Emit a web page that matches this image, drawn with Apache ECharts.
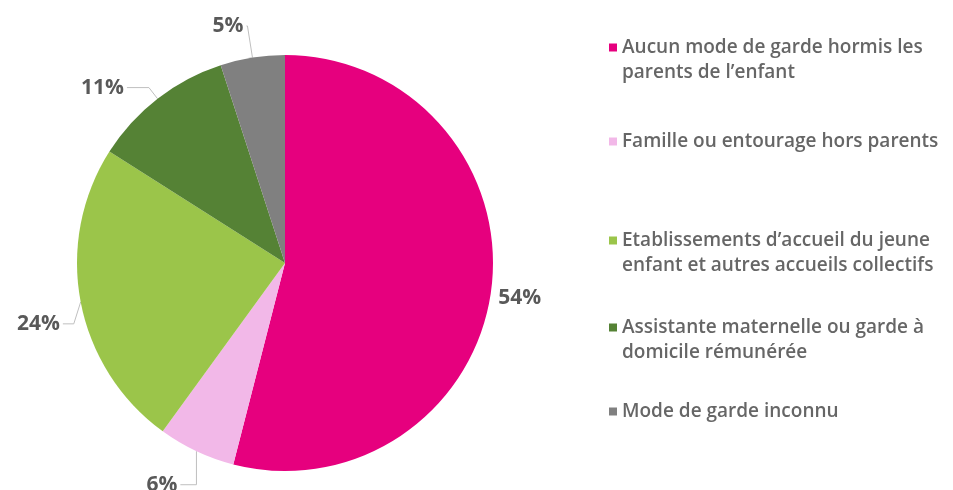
<!DOCTYPE html>
<html>
<head>
<meta charset="utf-8">
<script src="https://cdn.jsdelivr.net/npm/echarts@6/dist/echarts.min.js"></script>
<style>
html,body{margin:0;padding:0;background:#fff;}
#chart{width:953px;height:490px;}
</style>
</head>
<body>
<div id="chart"></div>
<script>
var categories = [
  "Aucun mode de garde hormis les parents de l\u2019enfant",
  "Famille ou entourage hors parents",
  "Etablissements d\u2019accueil du jeune enfant et autres accueils collectifs",
  "Assistante maternelle ou garde \u00e0 domicile r\u00e9mun\u00e9r\u00e9e",
  "Mode de garde inconnu"
];
var legendLines = [
  ["Aucun mode de garde hormis les", "parents de l\u2019enfant"],
  ["Famille ou entourage hors parents"],
  ["Etablissements d\u2019accueil du jeune", "enfant et autres accueils collectifs"],
  ["Assistante maternelle ou garde \u00e0", "domicile r\u00e9mun\u00e9r\u00e9e"],
  ["Mode de garde inconnu"]
];
var values = [54, 6, 24, 11, 5];

var colors = ["#E6007E", "#F2B8E8", "#9BC54A", "#558235", "#808080"];
var lineCfg = [
  {show: false, length: 0, length2: 4},
  {length: 26, length2: 5},
  {length: 10, length2: 8},
  {length: 14, length2: 22},
  {length: 32, length2: 1}
];
// label shifts; 'v' = leader drops vertically first, 'd' = diagonal
var labelShift = [{dy: 9}, {dy: 10, mode: 'v'}, {dy: 20, mode: 'd'}, {}, {}];
var legendTops = [35, 129, 228, 315, 399];

var rich = {
  ind: {width: 13},
  gap: {width: 5}
};
colors.forEach(function (c, i) {
  rich['sq' + i] = {width: 8, height: 8, backgroundColor: c};
});

var legends = categories.map(function (name, i) {
  return {
    left: 604,
    top: legendTops[i],
    orient: 'vertical',
    icon: 'none',
    itemWidth: 0,
    padding: 0,
    data: [name],
    selectedMode: false,
    formatter: function () {
      var l = legendLines[i];
      var s = '{sq' + i + '|}{gap|}' + l[0];
      for (var k = 1; k < l.length; k++) s += '\n{ind|}' + l[k];
      return s;
    },
    textStyle: {
      fontFamily: 'Open Sans',
      fontSize: 19,
      fontWeight: 600,
      color: '#666666',
      lineHeight: 25,
      rich: rich
    }
  };
});

var chart = echarts.init(document.getElementById('chart'));
chart.setOption({
  animation: false,
  color: colors,
  legend: legends,
  series: [{
    type: 'pie',
    center: [285, 263],
    radius: 208,
    startAngle: 90,
    clockwise: true,
    avoidLabelOverlap: false,
    label: {
      show: true,
      position: 'outside',
      formatter: '{c}%',
      fontFamily: 'Open Sans',
      fontSize: 21,
      fontWeight: 'bold',
      color: '#595959',
      distanceToLabelLine: 3
    },
    labelLine: {
      show: true,
      lineStyle: {color: '#BFBFBF', width: 1}
    },
    labelLayout: function (p) {
      var s = labelShift[p.dataIndex];
      var out = {};
      if (s.dy) out.dy = s.dy;
      var pts = p.labelLinePoints;
      if (pts && s.mode) {
        var a = [pts[0][0], pts[0][1]];
        var c = [pts[2][0], pts[2][1] + s.dy];
        var b;
        if (s.mode === 'v') b = [a[0], c[1]];
        else b = [(a[0] + c[0]) / 2 + 2, c[1]];
        out.labelLinePoints = [a, b, c];
      }
      return out;
    },
    emphasis: {disabled: true},
    data: categories.map(function (n, i) {
      return {name: n, value: values[i], labelLine: lineCfg[i]};
    })
  }]
});
</script>
</body>
</html>
